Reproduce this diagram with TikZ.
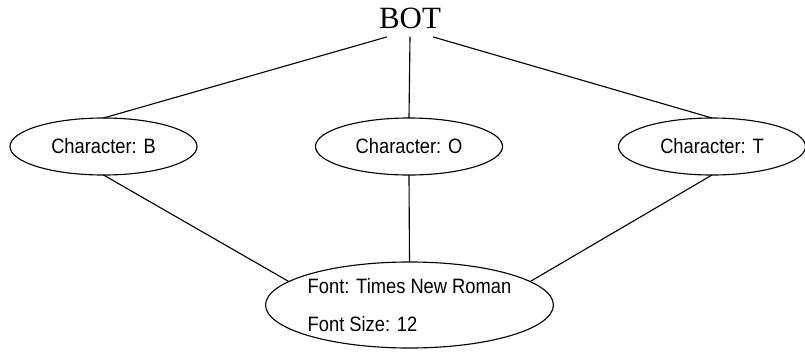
\documentclass[tikz,border=0pt]{standalone}
\usepackage{fontspec}
\setmainfont{Liberation Serif}
\newfontfamily\labelfont[FakeStretch=0.88]{Liberation Sans}
\usetikzlibrary{shapes.geometric}

\begin{document}
\begin{tikzpicture}[>=stealth, x=0.025cm, y=-0.025cm, line width=0.8pt,
    charnode/.style={draw, ellipse, inner sep=0pt, outer sep=0pt,
        minimum width=4.675cm, minimum height=1.425cm,
        font=\labelfont\fontsize{14.8pt}{16pt}\selectfont},
    fontnode/.style={draw, ellipse, inner sep=0pt, outer sep=0pt,
        minimum width=6.675cm, minimum height=2.15cm, align=left,
        font=\labelfont\fontsize{14.8pt}{26.5pt}\selectfont}]

    \useasboundingbox (0,0) rectangle (805,356);

    % ---------- 顶部单词 ----------
    \node[inner sep=5.7pt, outer sep=0pt, font=\fontsize{22pt}{26pt}\selectfont]
        (bot) at (410,18.5) {BOT};

    % ---------- 三个字符节点 ----------
    \foreach \name/\x/\ch in {charB/103.5/B, charO/409/O, charT/712/T}{
        \node[charnode] (\name) at (\x,146.5) {Character: \ch};
    }

    % ---------- 字体属性节点 ----------
    \node[fontnode] (font) at (409.5,305) {Font: Times New Roman\\Font Size: 12};

    % ---------- 连线（上层）----------
    \draw ([xshift=-0.575cm]bot.south) -- (charB.north);
    \draw (bot.south) -- (charO.north);
    \draw ([xshift=0.575cm]bot.south) -- (charT.north);

    % ---------- 连线（下层）----------
    \draw (charB.south) -- (font.169);
    \draw (charO.south) -- (font.north);
    \draw (charT.south) -- (font.11);

\end{tikzpicture}
\end{document}
